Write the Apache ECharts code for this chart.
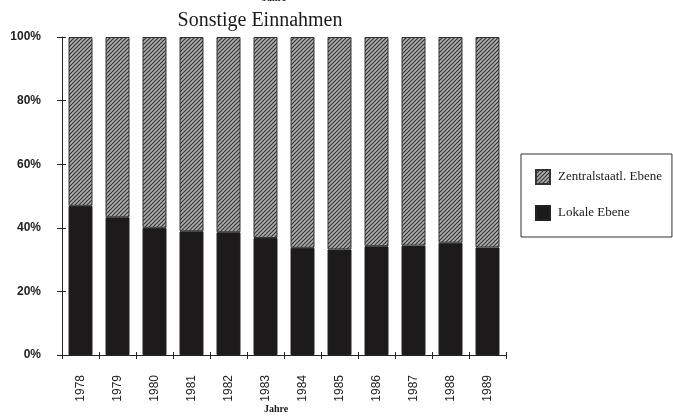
<!DOCTYPE html>
<html>
<head>
<meta charset="utf-8">
<script src="https://cdn.jsdelivr.net/npm/echarts@6/dist/echarts.min.js"></script>
<style>html,body{margin:0;padding:0;background:#fff;}#c{width:673px;height:417px;}</style>
</head>
<body>
<div id="c"></div>
<script>
const years = ['1978','1979','1980','1981','1982','1983','1984','1985','1986','1987','1988','1989'];
const lokale = [46.9, 43.3, 40.0, 38.9, 38.6, 36.8, 33.7, 33.2, 34.2, 34.4, 35.3, 33.8];
const zentral = [53.1, 56.7, 60.0, 61.1, 61.4, 63.2, 66.3, 66.8, 65.8, 65.6, 64.7, 66.2];
const yTicks = [0, 20, 40, 60, 80, 100];

function hatch() {
  const c = document.createElement('canvas');
  c.width = 4; c.height = 4;
  const g = c.getContext('2d');
  g.fillStyle = '#b0b0b0';
  g.fillRect(0, 0, 4, 4);
  g.strokeStyle = '#333';
  g.lineWidth = 1.2;
  g.beginPath();
  g.moveTo(-1, 5); g.lineTo(5, -1);
  g.moveTo(-1, 1); g.lineTo(1, -1);
  g.moveTo(3, 5); g.lineTo(5, 3);
  g.stroke();
  return c;
}

const chart = echarts.init(document.getElementById('c'), null, {renderer: 'canvas'});
const serif = '"Liberation Serif", "DejaVu Serif", serif';
const sans = '"Liberation Sans", Arial, sans-serif';
chart.setOption({
  animation: false,
  title: {
    text: 'Sonstige Einnahmen',
    left: 255, top: 6, textAlign: 'center',
    textStyle: {fontFamily: serif, fontSize: 20, fontWeight: 'normal', color: '#1a1a1a'}
  },
  graphic: [{
    type: 'text', left: 262, top: -7,
    style: {text: 'Jahre', font: 'bold 10px ' + serif, fill: '#1a1a1a'}
  }, {
    type: 'text', left: 264, top: 404,
    style: {text: 'Jahre', font: 'bold 10px ' + serif, fill: '#1a1a1a'}
  }],
  legend: {
    orient: 'vertical', left: 521, top: 154,
    padding: [15, 10, 16, 14],
    itemGap: 20, itemWidth: 14, itemHeight: 14,
    borderColor: '#333', borderWidth: 1,
    icon: 'rect',
    data: ['Zentralstaatl. Ebene', 'Lokale Ebene'],
    textStyle: {fontFamily: serif, fontSize: 13, color: '#1a1a1a', padding: [0, 0, 0, 3]}
  },
  grid: {left: 62, right: 167, top: 37, bottom: 62, outerBoundsMode: 'none', containLabel: false},
  xAxis: [{
    type: 'category', data: years,
    axisLine: {lineStyle: {color: '#222', width: 1}},
    axisTick: {show: true, length: 4, lineStyle: {color: '#222'}},
    axisLabel: {rotate: 90, margin: 20, fontFamily: sans, fontSize: 12, color: '#222'}
  }, {
    type: 'category', data: years, position: 'bottom',
    axisLine: {show: false}, axisLabel: {show: false},
    axisTick: {show: true, inside: true, length: 3, lineStyle: {color: '#222'}}
  }],
  yAxis: [{
    type: 'value', min: 0, max: 100, interval: 20,
    axisLine: {show: true, lineStyle: {color: '#222'}},
    axisTick: {show: true, length: 5, lineStyle: {color: '#222'}},
    splitLine: {show: false},
    axisLabel: {formatter: '{value}%', margin: 21, fontFamily: sans, fontWeight: 'bold', fontSize: 12, color: '#222'}
  }, {
    type: 'value', min: 0, max: 100, interval: 20, position: 'left',
    axisLine: {show: false}, axisLabel: {show: false}, splitLine: {show: false},
    axisTick: {show: true, inside: true, length: 4, lineStyle: {color: '#222'}}
  }],
  series: [{
    name: 'Lokale Ebene', type: 'bar', stack: 's', data: lokale,
    barWidth: 24,
    itemStyle: {color: '#1c1a1a', borderColor: '#222', borderWidth: 1}
  }, {
    name: 'Zentralstaatl. Ebene', type: 'bar', stack: 's', data: zentral,
    barWidth: 24,
    itemStyle: {color: {image: hatch(), repeat: 'repeat'}, borderColor: '#333', borderWidth: 1}
  }]
});
</script>
</body>
</html>
